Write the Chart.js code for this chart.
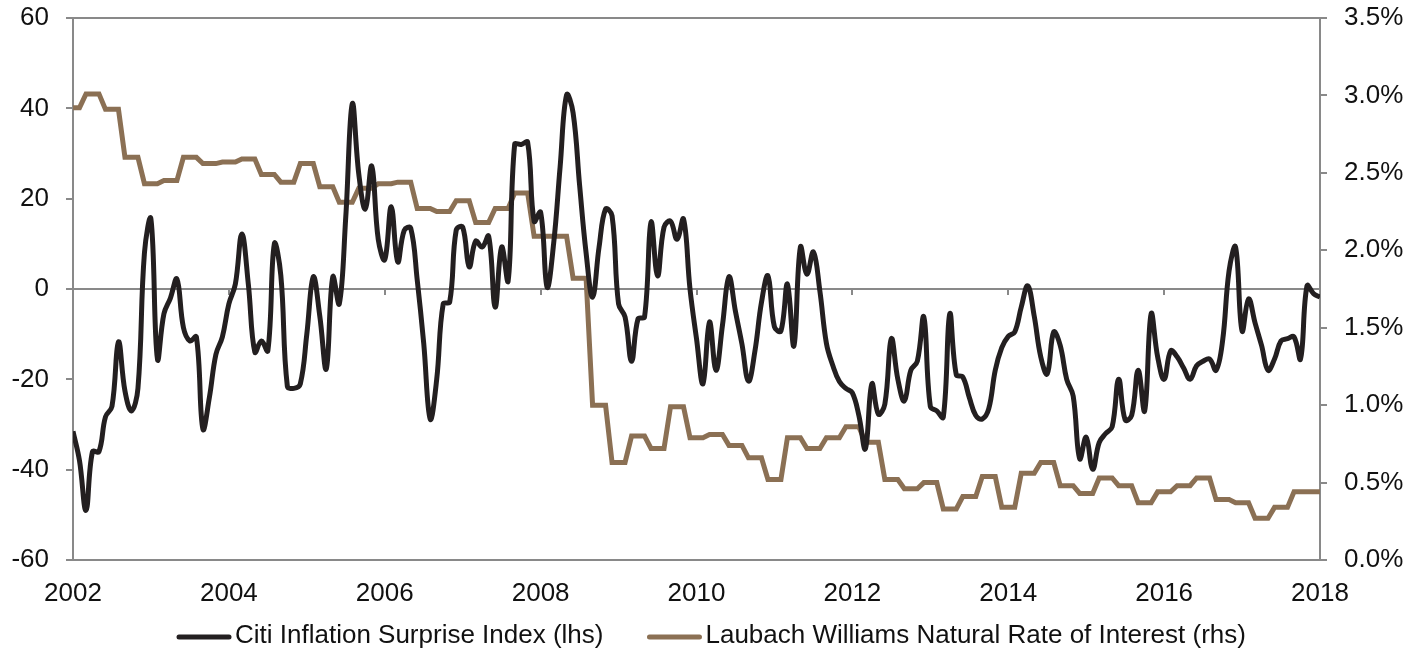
<!DOCTYPE html>
<html>
<head>
<meta charset="utf-8">
<script src="https://cdn.jsdelivr.net/npm/chart.js@4.4.1/dist/chart.umd.min.js"></script>
<style>
  html, body { margin: 0; padding: 0; background: #fff; }
  canvas { display: block; }
</style>
</head>
<body>
<canvas id="myChart" width="1410" height="653"></canvas>
<script>
const START_YEAR = 2002;
const AXIS_GREY = '#898989';
const TEXT_COLOR = '#111';
const FONT_FAMILY = "'Liberation Sans', Arial, sans-serif";
const FONT_SIZE = 26;

// Citi Inflation Surprise Index, one value per month from Jan 2002
const citiValues = [
  -31.5, -38, -49, -36, -36, -28.3, -26, -11.7, -22.6, -27, -22, 8,          // 2002
  15.5, -15.5, -5.5, -2, 2.2, -8.5, -11.5, -10.6, -31, -24, -14.5, -10.6,    // 2003
  -3.3, 1.1, 12.2, 1, -14, -11.5, -13.7, 10, 3, -21.5, -22, -21,             // 2004
  -10, 2.7, -6, -17.7, 2.7, -3.3, 16, 41, 25.5, 17.7, 27.2, 11,              // 2005
  6.5, 18.2, 6, 13, 13.5, 2, -12, -28.8, -20, -3.3, -2.9, 13,                // 2006
  13.7, 4.9, 10.6, 9.3, 11.7, -4, 9.3, 1.8, 32, 32, 32.5, 15,                // 2007
  17, 0.4, 10, 27, 43, 39, 23, 8, -1.8, 9.3, 17.7, 16.2,                     // 2008
  -3.3, -6.2, -16, -6.6, -6.2, 14.8, 2.9, 13.7, 15, 11, 15.5, 0,             // 2009
  -11, -21, -7.3, -18, -8, 2.7, -5, -12.2, -20.4, -13.7, -3, 2.9,            // 2010
  -8.4, -9.3, 1.1, -12.6, 9.3, 3.3, 8.2, -0.5, -12, -17, -20.5, -22,         // 2011
  -23, -28, -35.4, -21, -27.7, -25.5, -11, -20, -24.8, -18, -16, -6.2,       // 2012
  -26, -27, -28.4, -5.5, -19, -19.5, -24, -28, -28.8, -26.5, -18, -13,       // 2013
  -10.5, -9.5, -4, 0.7, -6, -15, -18.8, -9.5, -12.5, -20, -23.7, -37.6,      // 2014
  -32.8, -39.9, -34, -32, -30.5, -20, -29, -28, -18, -27, -5.5, -15,         // 2015
  -20, -13.7, -15, -17.5, -20, -17, -16, -15.5, -18, -11.5, 4, 9.3,          // 2016
  -9.3, -2.2, -7.5, -12.5, -18, -15.5, -11.5, -11, -10.6, -15.5, 0.7, -1,    // 2017
  -1.8                                                                       // 2018
];

// Laubach-Williams natural rate (%), one value per quarter;
// the first entry only covers the two opening months
const lwQuarterly = [
  2.92, 3.01, 2.91, 2.60, 2.43, 2.45, 2.60, 2.56, 2.57, 2.59, 2.49, 2.44,
  2.56, 2.41, 2.31, 2.40, 2.43, 2.44, 2.27, 2.25, 2.32, 2.18, 2.27, 2.37,
  2.09, 2.09, 1.82, 1.00, 0.63, 0.80, 0.72, 0.99, 0.79, 0.81, 0.74, 0.66,
  0.52, 0.79, 0.72, 0.79, 0.86, 0.76, 0.52, 0.46, 0.50, 0.33, 0.41, 0.54,
  0.34, 0.56, 0.63, 0.48, 0.43, 0.53, 0.48, 0.37, 0.44, 0.48, 0.53, 0.39,
  0.37, 0.27, 0.34, 0.44, 0.44
];

const seriesNames = [
  'Citi Inflation Surprise Index (lhs)',
  'Laubach Williams Natural Rate of Interest (rhs)'
];
const seriesColors = ['#231f20', '#8b7054'];

function monthToYear(i){ // month index -> decimal year
  return START_YEAR + i / 12;
}

// citi points, one per month
const citiPoints = citiValues.map((v, i) => ({ x: monthToYear(i), y: v }));

// quarterly rate held flat over each month of its quarter
const lwPoints = citiValues.map((_, i) => ({
  x: monthToYear(i),
  y: lwQuarterly[Math.floor((i + 1) / 3)]
}));

const tickFont = { family: FONT_FAMILY, size: FONT_SIZE };

function fixWidth(w){ // pin a y axis to a set width, no extra room for end labels
  return function(scale){
    scale.width = w;
    scale.paddingTop = 0;
    scale.paddingBottom = 0;
  };
}

// box round the plot, the x tick marks on the zero line, and the legend
const frameAndLegend = {
  id: 'frameAndLegend',
  beforeDatasetsDraw(chart){
    const ctx = chart.ctx;
    const area = chart.chartArea;
    const xScale = chart.scales.x;
    const y0 = chart.scales.yLeft.getPixelForValue(0);
    ctx.save();
    ctx.strokeStyle = AXIS_GREY;
    ctx.lineWidth = 2;
    ctx.beginPath();
    ctx.moveTo(area.left, area.top);
    ctx.lineTo(area.right, area.top);
    xScale.ticks.forEach(t => {
      const px = Math.round(xScale.getPixelForValue(t.value));
      ctx.moveTo(px, y0);
      ctx.lineTo(px, y0 + 6);
    });
    ctx.stroke();
    ctx.restore();
  },
  afterDraw(chart){
    const ctx = chart.ctx;
    const sampleW = 54, gap = 4, itemGap = 44;
    const yMid = 636;
    let x = 177;
    ctx.save();
    ctx.font = FONT_SIZE + 'px ' + FONT_FAMILY;
    ctx.textBaseline = 'middle';
    ctx.fillStyle = TEXT_COLOR;
    chart.data.datasets.forEach(ds => {
      ctx.strokeStyle = ds.borderColor;
      ctx.lineWidth = 5;
      ctx.lineCap = 'round';
      ctx.beginPath();
      ctx.moveTo(x + 2, yMid + 1);
      ctx.lineTo(x + sampleW - 2, yMid + 1);
      ctx.stroke();
      x += sampleW + gap;
      ctx.fillText(ds.label, x, yMid);
      x += ctx.measureText(ds.label).width + itemGap;
    });
    ctx.restore();
  }
};

const CTX = document.getElementById('myChart').getContext('2d');
const myChart = new Chart(CTX, {
  type: 'line',
  data: {
    datasets: [
      {
        label: seriesNames[0],
        data: citiPoints,
        yAxisID: 'yLeft',
        borderColor: seriesColors[0],
        borderWidth: 5,
        borderJoinStyle: 'round',
        tension: 0.4,
        pointRadius: 0,
        fill: false
      },
      {
        label: seriesNames[1],
        data: lwPoints,
        yAxisID: 'yRight',
        borderColor: seriesColors[1],
        borderWidth: 5,
        tension: 0,
        pointRadius: 0,
        fill: false
      }
    ]
  },
  options: {
    responsive: false,
    animation: false,
    events: [],
    layout: { padding: { top: 18, left: 0, right: 0, bottom: 0 } },
    plugins: {
      legend: { display: false },
      tooltip: { enabled: false }
    },
    scales: {
      x: {
        type: 'linear',
        min: 2002,
        max: 2018,
        afterFit(scale){
          scale.height = 93;
          scale.paddingLeft = 0;
          scale.paddingRight = 0;
        },
        grid: { display: false, drawTicks: false },
        border: { display: true, color: AXIS_GREY, width: 2 },
        ticks: {
          stepSize: 2,
          padding: 18,
          color: TEXT_COLOR,
          font: tickFont,
          maxRotation: 0,
          callback: v => String(v)
        }
      },
      yLeft: {
        position: 'left',
        min: -60,
        max: 60,
        afterFit: fixWidth(73),
        grid: {
          drawOnChartArea: true,
          color: c => (c.tick && c.tick.value === 0) ? AXIS_GREY : 'rgba(0,0,0,0)',
          tickColor: AXIS_GREY,
          lineWidth: 2,
          tickLength: 7
        },
        border: { display: true, color: AXIS_GREY, width: 2 },
        ticks: {
          stepSize: 20,
          padding: 17,
          color: TEXT_COLOR,
          font: tickFont
        }
      },
      yRight: {
        position: 'right',
        min: 0,
        max: 3.5,
        afterFit: fixWidth(90),
        grid: {
          drawOnChartArea: false,
          tickColor: AXIS_GREY,
          lineWidth: 2,
          tickLength: 7
        },
        border: { display: true, color: AXIS_GREY, width: 2 },
        ticks: {
          stepSize: 0.5,
          padding: 17,
          color: TEXT_COLOR,
          font: tickFont,
          callback: v => v.toFixed(1) + '%'
        }
      }
    }
  },
  plugins: [frameAndLegend]
});
</script>
</body>
</html>
